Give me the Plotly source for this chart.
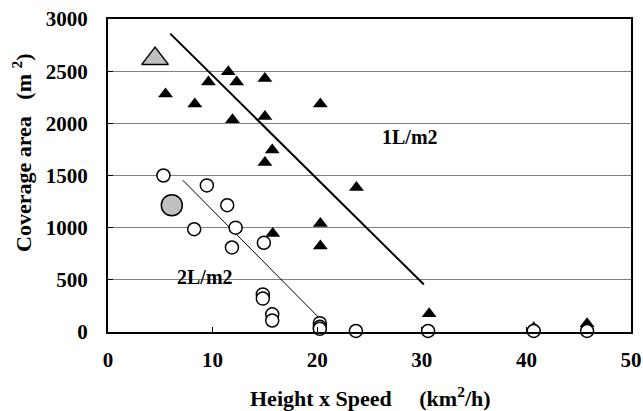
import plotly.graph_objects as go

# ---- data ----
tri_x = [5.5, 8.3, 9.6, 11.5, 12.3, 15.0, 11.9, 15.0, 20.3, 15.7, 15.0, 23.75, 15.75, 20.3, 20.3, 30.7, 40.7, 45.8]
tri_y = [2280, 2185, 2395, 2495, 2395, 2430, 2035, 2065, 2185, 1745, 1625, 1385, 945, 1040, 825, 175, 40, 80]
tri_gray_x = [4.5]
tri_gray_y = [2620]

cir_x = [5.3, 9.45, 11.4, 8.24, 12.2, 11.85, 14.9, 14.8, 14.8, 15.7, 15.7, 20.25, 20.25, 20.25, 23.7, 30.6, 40.7, 45.8]
cir_y = [1500, 1405, 1215, 985, 1000, 810, 855, 360, 320, 170, 110, 85, 50, 30, 10, 10, 10, 10]
cir_gray_x = [6.1]
cir_gray_y = [1215]

line1_x = [5.95, 30.2]
line1_y = [2860, 455]
line2_x = [7.15, 20.1]
line2_y = [1455, 144]

x_ticks = [0, 10, 20, 30, 40, 50]
y_ticks = [0, 500, 1000, 1500, 2000, 2500, 3000]

FONT = "Liberation Serif"

fig = go.Figure()

fig.add_trace(go.Scatter(x=line1_x, y=line1_y, mode="lines",
                         line=dict(color="black", width=2), cliponaxis=False))
fig.add_trace(go.Scatter(x=line2_x, y=line2_y, mode="lines",
                         line=dict(color="black", width=1), cliponaxis=False))

fig.add_trace(go.Scatter(x=tri_x, y=tri_y, mode="markers", cliponaxis=False,
                         marker=dict(symbol="triangle-up", size=13, color="black",
                                     line=dict(width=0))))
fig.add_trace(go.Scatter(x=tri_gray_x, y=tri_gray_y, mode="markers", cliponaxis=False,
                         marker=dict(symbol="triangle-up", size=23, color="#c0c0c0",
                                     line=dict(width=1.5, color="black"))))
fig.add_trace(go.Scatter(x=cir_x, y=cir_y, mode="markers", cliponaxis=False,
                         marker=dict(symbol="circle", size=13, color="white",
                                     line=dict(width=1.5, color="black"))))
fig.add_trace(go.Scatter(x=cir_gray_x, y=cir_gray_y, mode="markers", cliponaxis=False,
                         marker=dict(symbol="circle", size=21, color="#c0c0c0",
                                     line=dict(width=1.5, color="black"))))

tickfont = dict(family=FONT, size=21, color="black", weight="bold")

fig.update_xaxes(range=[0, 50], tickvals=x_ticks, ticktext=[str(v) for v in x_ticks],
                 showline=True, linecolor="black", linewidth=2, mirror=True,
                 ticks="inside", ticklen=5, tickcolor="black", showgrid=False,
                 zeroline=False, tickfont=tickfont, ticklabelstandoff=8,
                 automargin=False)
fig.update_yaxes(range=[0, 3000], tickvals=y_ticks, ticktext=[str(v) for v in y_ticks],
                 showline=True, linecolor="black", linewidth=2, mirror=True,
                 ticks="inside", ticklen=5, tickcolor="black",
                 showgrid=True, gridcolor="#808080", gridwidth=1,
                 zeroline=False, tickfont=tickfont, ticklabelstandoff=14,
                 automargin=False)

L, R, T, B = 108, 12, 19, 79
pw, ph = 643 - L - R, 411 - T - B

annfont = dict(family=FONT, size=20, color="black", weight="bold")
fig.add_annotation(x=28.9, y=1870, text="1L/m2", showarrow=False, font=annfont,
                   xref="x", yref="y")
fig.add_annotation(x=9.3, y=525, text="2L/m2", showarrow=False, font=annfont,
                   xref="x", yref="y")

titlefont = dict(family=FONT, size=22, color="black", weight="bold")
fig.add_annotation(x=(370 - L) / pw, y=(411 - 397 - B) / ph, xref="paper", yref="paper",
                   xanchor="center", yanchor="middle", showarrow=False,
                   text="Height x Speed\u00a0\u00a0\u00a0\u00a0\u00a0(km<sup>2</sup>/h)",
                   font=titlefont)
fig.add_annotation(x=(22 - L) / pw, y=(411 - 153 - B) / ph, xref="paper", yref="paper",
                   xanchor="center", yanchor="middle", showarrow=False, textangle=-90,
                   text="Coverage area\u00a0\u00a0\u00a0(m\u00a0<sup>2</sup>)", font=titlefont)

fig.update_layout(width=643, height=411, margin=dict(l=L, r=R, t=T, b=B, autoexpand=False),
                  plot_bgcolor="white", paper_bgcolor="white", showlegend=False)

fig.write_html("out.html", config={"displayModeBar": False},
               post_script="document.body.style.margin='0';document.body.style.padding='0';")
